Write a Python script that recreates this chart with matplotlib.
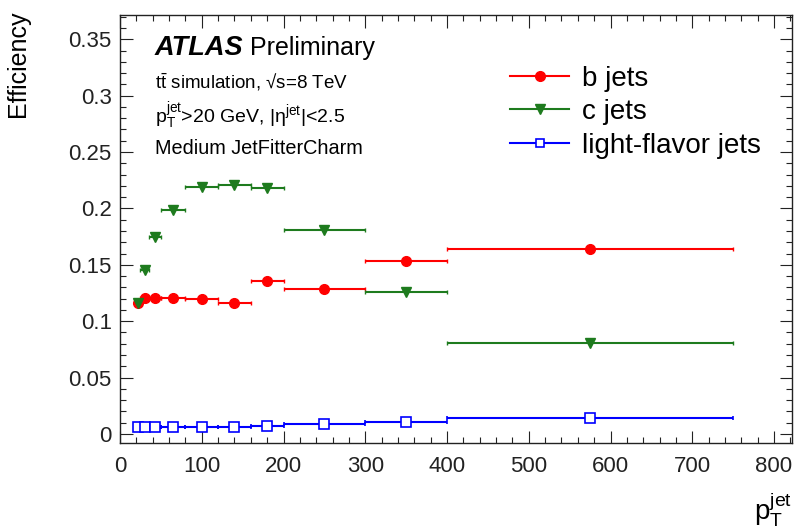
import numpy as np
import matplotlib
matplotlib.use("Agg")
from matplotlib import pyplot as plt
from matplotlib.lines import Line2D
from matplotlib.ticker import MultipleLocator

plt.rcParams['font.family'] = ['Liberation Sans', 'DejaVu Sans']
plt.rcParams['mathtext.fontset'] = 'custom'
plt.rcParams['mathtext.rm'] = 'Liberation Sans'
plt.rcParams['mathtext.it'] = 'Liberation Sans:italic'
plt.rcParams['mathtext.bf'] = 'Liberation Sans:bold'

# jet pT bin edges [GeV]
edges = np.array([20, 25, 35, 50, 80, 120, 160, 200, 300, 400, 750])
centers = 0.5 * (edges[:-1] + edges[1:])
half = 0.5 * (edges[1:] - edges[:-1])

eff_b = [0.116, 0.121, 0.121, 0.1205, 0.1195, 0.116, 0.136, 0.1285, 0.153, 0.164]
eff_c = [0.116, 0.145, 0.175, 0.199, 0.219, 0.221, 0.218, 0.181, 0.126, 0.081]
eff_l = [0.006, 0.006, 0.006, 0.006, 0.006, 0.0065, 0.0075, 0.0085, 0.0105, 0.014]

labels = ['b jets', 'c jets', 'light-flavor jets']
colors = ['#ff0000', '#1e7b1e', '#0000ff']

W, H = 800, 529
fig = plt.figure(figsize=(8, 5.29), dpi=100)
# frame: x 120..792 px, y 15..443 px
ax = fig.add_axes([120 / W, 1 - 443 / H, 672 / W, 428 / H])

ax.errorbar(centers, eff_b, xerr=half, fmt='o', color=colors[0], ms=7,
            lw=1.5, capsize=1.5)
ax.errorbar(centers, eff_c, xerr=half, fmt='v', color=colors[1], ms=7,
            lw=1.5, capsize=1.5)
ax.errorbar(centers, eff_l, xerr=half, fmt='s', color=colors[2], ms=7.5,
            mfc='white', mew=1.2, lw=1.5, capsize=1.5)

ax.set_xlim(0, 822)
ax.set_ylim(-0.008, 0.3715)
ax.xaxis.set_major_locator(MultipleLocator(100))
ax.xaxis.set_minor_locator(MultipleLocator(20))
ax.yaxis.set_minor_locator(MultipleLocator(0.01))
ax.set_yticks([0, 0.05, 0.1, 0.15, 0.2, 0.25, 0.3, 0.35])
ax.set_yticklabels(['0', '0.05', '0.1', '0.15', '0.2', '0.25', '0.3', '0.35'])
ax.tick_params(which='both', direction='in', top=True, right=True,
               labelsize=16, colors='#222222', width=0.8)
ax.tick_params(which='major', length=9)
ax.tick_params(which='minor', length=4.5)
ax.tick_params(axis='x', pad=9)
ax.tick_params(axis='y', pad=6)
for s in ax.spines.values():
    s.set_linewidth(1.0)
    s.set_color('#222222')

ax.set_ylabel('Efficiency', fontsize=18, loc='top')
ax.yaxis.set_label_coords(-0.134, 1.01)
ax.set_xlabel(r'$\mathrm{p}_{\mathrm{T}}^{\mathrm{jet}}$', fontsize=20,
              loc='right', labelpad=10)

handles = [
    Line2D([], [], color=colors[0], marker='o', ms=7, lw=1.5),
    Line2D([], [], color=colors[1], marker='v', ms=7, lw=1.5),
    Line2D([], [], color=colors[2], marker='s', ms=6, mfc='white', mew=1.2, lw=1.5),
]
ax.legend(handles, labels, loc='upper left', bbox_to_anchor=(0.58, 0.882),
          frameon=False, fontsize=20, handlelength=2.15, handletextpad=0.45,
          labelspacing=0.27, borderpad=0, borderaxespad=0)

fig.text(155 / W, 1 - 48 / H, 'ATLAS', fontsize=19.5, fontweight='bold',
         style='italic', va='center')
fig.text(250 / W, 1 - 48 / H, 'Preliminary', fontsize=18, va='center')
fig.text(155 / W, 1 - 82 / H, r'$\mathrm{t\bar{t}}$ simulation, √s=8 TeV',
         fontsize=13.5, va='center')
fig.text(155 / W, 1 - 116 / H,
         r'$\mathrm{p}_{\mathrm{T}}^{\mathrm{jet}}$>20 GeV, |η$^{\mathrm{jet}}$|<2.5',
         fontsize=14, va='center')
fig.text(155 / W, 1 - 149 / H, 'Medium JetFitterCharm', fontsize=14.3,
         va='center')

fig.savefig('out.png', dpi=100)
